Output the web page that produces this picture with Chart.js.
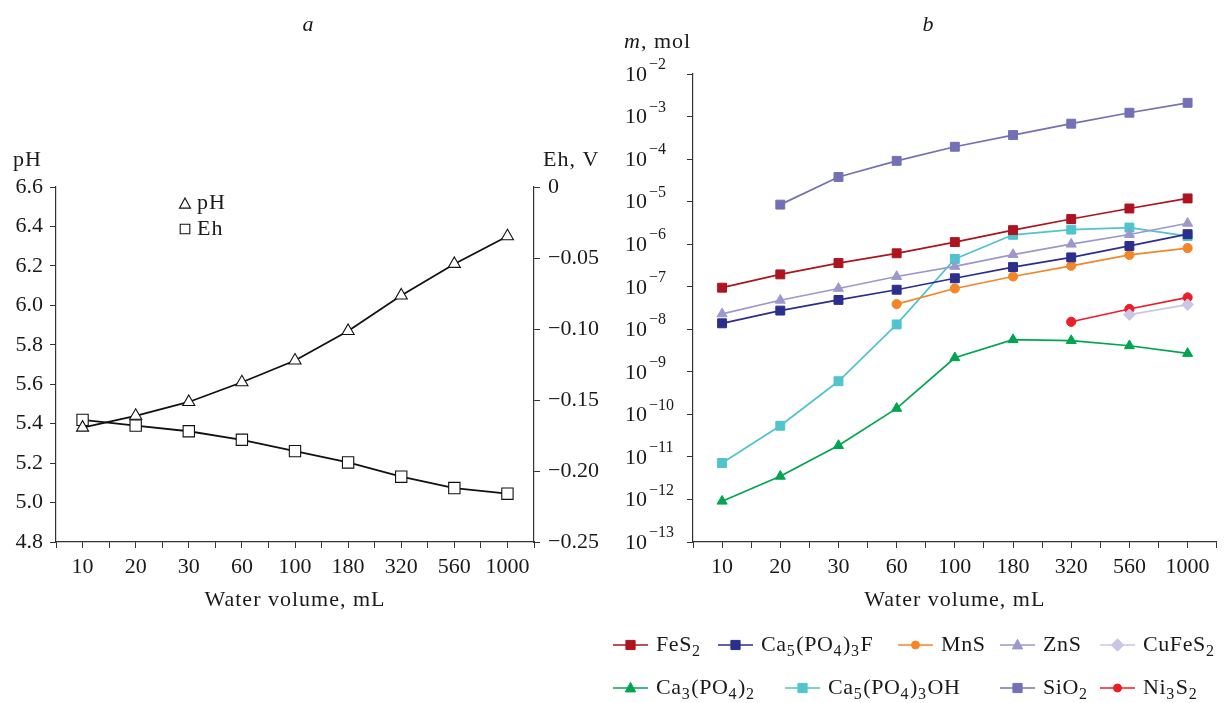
<!DOCTYPE html>
<html>
<head>
<meta charset="utf-8">
<script src="https://cdn.jsdelivr.net/npm/chart.js@4.4.1/dist/chart.umd.min.js"></script>
<style>
  body { margin: 0; background: #fff; }
  #wrap { position: relative; width: 1224px; height: 703px; }
  canvas { position: absolute; top: 0; }
  #left { left: 0; }
  #right { left: 600px; }
</style>
</head>
<body>
<div id="wrap">
  <canvas id="left" width="620" height="703"></canvas>
  <canvas id="right" width="624" height="703"></canvas>
</div>
<script>
// shared categories
const volumes = ['10', '20', '30', '60', '100', '180', '320', '560', '1000'];

// panel a
const phValues = [5.38, 5.44, 5.51, 5.61, 5.72, 5.87, 6.05, 6.21, 6.35];
const ehValues = [-0.164, -0.168, -0.172, -0.178, -0.186, -0.194, -0.204, -0.212, -0.216];
const phTicks = [4.8, 5.0, 5.2, 5.4, 5.6, 5.8, 6.0, 6.2, 6.4, 6.6];
const ehTicks = [-0.25, -0.20, -0.15, -0.10, -0.05, 0];

// panel b (mol)
const fes2 = [9.5e-8, 1.95e-7, 3.6e-7, 6.1e-7, 1.12e-6, 2.14e-6, 3.9e-6, 6.9e-6, 1.19e-5];
const ca5f = [1.38e-8, 2.75e-8, 4.9e-8, 8.5e-8, 1.58e-7, 2.9e-7, 4.9e-7, 9.1e-7, 1.72e-6];
const mns = [null, null, null, 3.9e-8, 9.1e-8, 1.74e-7, 3.1e-7, 5.6e-7, 8.1e-7];
const zns = [2.3e-8, 4.8e-8, 9.1e-8, 1.74e-7, 3.0e-7, 5.7e-7, 1.0e-6, 1.69e-6, 3.1e-6];
const cufes2 = [null, null, null, null, null, null, null, 2.2e-8, 3.8e-8];
const ca3 = [9.1e-13, 3.5e-12, 1.85e-11, 1.38e-10, 2.14e-9, 5.7e-9, 5.4e-9, 4.1e-9, 2.7e-9];
const ca5oh = [7.2e-12, 5.4e-11, 6.0e-10, 1.3e-8, 4.5e-7, 1.66e-6, 2.2e-6, 2.46e-6, 1.55e-6];
const sio2 = [null, 8.5e-6, 3.8e-5, 9.1e-5, 1.95e-4, 3.67e-4, 6.8e-4, 1.23e-3, 2.1e-3];
const ni3s2 = [null, null, null, null, null, null, 1.5e-8, 3.0e-8, 5.6e-8];
const molExponents = [-13, -12, -11, -10, -9, -8, -7, -6, -5, -4, -3, -2];

const FONT = '"Liberation Serif", "DejaVu Serif", serif';
const INK = '#1a1a1a';
const AXIS = '#333';

function points(values) {
    return values.map((v, i) => ({ x: i, y: v }));
}

// tick positions at every category and half-way between
function halfTicks(scale) {
    const t = [];
    for (let v = -0.5; v <= volumes.length - 0.5; v += 0.5) t.push({ value: v });
    scale.ticks = t;
}

function xAxis(height) {
    return {
        type: 'linear',
        min: -0.5,
        max: volumes.length - 0.5,
        afterBuildTicks: halfTicks,
        afterFit: s => { s.height = height; },
        grid: { drawOnChartArea: false, drawTicks: true, tickLength: 6, color: AXIS },
        border: { color: AXIS, width: 1.2 },
        ticks: {
            autoSkip: false,
            maxRotation: 0,
            padding: 6,
            color: INK,
            font: { family: FONT, size: 22 },
            callback: v => Number.isInteger(v) ? volumes[v] : ''
        }
    };
}

function drawMarker(ctx, style, x, y, r, fill, stroke, lw) {
    ctx.save();
    ctx.beginPath();
    if (style === 'rect') {
        ctx.rect(x - r, y - r, 2 * r, 2 * r);
    } else if (style === 'triangle') {
        ctx.moveTo(x, y - r * 1.1);
        ctx.lineTo(x + r, y + r * 0.75);
        ctx.lineTo(x - r, y + r * 0.75);
        ctx.closePath();
    } else if (style === 'rectRot') {
        ctx.moveTo(x, y - r * 1.2);
        ctx.lineTo(x + r * 1.2, y);
        ctx.lineTo(x, y + r * 1.2);
        ctx.lineTo(x - r * 1.2, y);
        ctx.closePath();
    } else {
        ctx.arc(x, y, r, 0, Math.PI * 2);
    }
    ctx.fillStyle = fill;
    ctx.fill();
    ctx.lineWidth = lw;
    ctx.strokeStyle = stroke;
    ctx.stroke();
    ctx.restore();
}

// draw text where "_d" means subscript digit
function drawChem(ctx, text, x, y) {
    const parts = text.split(/(_\d)/).filter(p => p);
    let cx = x;
    parts.forEach(p => {
        if (p[0] === '_') {
            ctx.font = '16px ' + FONT;
            ctx.fillText(p[1], cx, y + 7);
            cx += ctx.measureText(p[1]).width + 1;
        } else {
            ctx.font = '22px ' + FONT;
            ctx.fillText(p, cx, y);
            cx += ctx.measureText(p).width;
        }
    });
}

// ---------- panel a ----------
const panelAText = {
    id: 'panelAText',
    afterDraw(chart) {
        const ctx = chart.ctx;
        const area = chart.chartArea;
        ctx.save();
        ctx.fillStyle = INK;
        ctx.textBaseline = 'middle';
        ctx.font = 'italic 22px ' + FONT;
        ctx.textAlign = 'center';
        ctx.fillText('a', 308, 25);
        ctx.font = '22px ' + FONT;
        ctx.letterSpacing = '1px';
        ctx.fillText('Water volume, mL', (area.left + area.right) / 2, 600);
        ctx.textAlign = 'left';
        ctx.fillText('pH', 13, 160);
        ctx.fillText('Eh, V', 543, 160);
        // legend
        drawMarker(ctx, 'triangle', 185, 204, 5.5, '#fff', '#111', 1.1);
        ctx.fillText('pH', 197, 203);
        drawMarker(ctx, 'rect', 185, 229, 4.8, '#fff', '#111', 1.1);
        ctx.fillText('Eh', 197, 229);
        ctx.restore();
    }
};

new Chart(document.getElementById('left'), {
    type: 'line',
    data: {
        datasets: [{
            label: 'pH',
            data: points(phValues),
            yAxisID: 'y',
            borderColor: '#111',
            borderWidth: 1.8,
            pointStyle: 'triangle',
            pointRadius: 7,
            pointBackgroundColor: '#fff',
            pointBorderColor: '#111',
            pointBorderWidth: 1.1
        }, {
            label: 'Eh',
            data: points(ehValues),
            yAxisID: 'y2',
            borderColor: '#111',
            borderWidth: 1.8,
            pointStyle: 'rect',
            pointRadius: 8,
            pointBackgroundColor: '#fff',
            pointBorderColor: '#111',
            pointBorderWidth: 1.1
        }]
    },
    options: {
        responsive: false,
        animation: false,
        events: [],
        layout: { padding: { top: 187, left: 0, right: 0, bottom: 0 } },
        plugins: { legend: { display: false }, tooltip: { enabled: false } },
        scales: {
            x: xAxis(703 - 542),
            y: {
                position: 'left',
                min: 4.8,
                max: 6.6,
                afterBuildTicks: s => { s.ticks = phTicks.map(v => ({ value: v })); },
                afterFit: s => { s.width = 56; },
                grid: { drawOnChartArea: false, tickLength: 6, color: AXIS },
                border: { color: AXIS, width: 1.2 },
                ticks: {
                    padding: 7,
                    color: INK,
                    font: { family: FONT, size: 22 },
                    callback: v => v.toFixed(1)
                }
            },
            y2: {
                position: 'right',
                min: -0.25,
                max: 0,
                afterBuildTicks: s => { s.ticks = ehTicks.map(v => ({ value: v })); },
                afterFit: s => { s.width = 620 - 534; },
                grid: { drawOnChartArea: false, tickLength: 6, color: AXIS },
                border: { color: AXIS, width: 1.2 },
                ticks: {
                    padding: 8,
                    color: INK,
                    font: { family: FONT, size: 22 },
                    callback: v => v === 0 ? '0' : '\u2212' + Math.abs(v).toFixed(2)
                }
            }
        }
    },
    plugins: [panelAText]
});

// ---------- panel b ----------
const seriesB = [
    { name: 'FeS_2', data: fes2, color: '#ad1420', style: 'rect', r: 6.3 },
    { name: 'Ca_5(PO_4)_3F', data: ca5f, color: '#2b2e8c', style: 'rect', r: 6.3 },
    { name: 'MnS', data: mns, color: '#f4862a', style: 'circle', r: 4.6 },
    { name: 'ZnS', data: zns, color: '#9d98cb', style: 'triangle', r: 5.8 },
    { name: 'CuFeS_2', data: cufes2, color: '#cbc6e4', style: 'rectRot', r: 5.8 },
    { name: 'Ca_3(PO_4)_2', data: ca3, color: '#00a550', style: 'triangle', r: 5.8 },
    { name: 'Ca_5(PO_4)_3OH', data: ca5oh, color: '#4fc4cc', style: 'rect', r: 6.3 },
    { name: 'SiO_2', data: sio2, color: '#7470b5', style: 'rect', r: 6.3 },
    { name: 'Ni_3S_2', data: ni3s2, color: '#ec1c28', style: 'circle', r: 4.6 }
];

// legend placement (canvas x of sample start, row)
const legendSlots = [
    [13, 645], [118, 645], [298, 645], [400, 645], [500, 645],
    [13, 688], [185, 688], [400, 688], [500, 688]
];

const subDigits = '\u2080\u2081\u2082\u2083\u2084\u2085\u2086\u2087\u2088\u2089';
const plainName = n => n.replace(/_(\d)/g, (m, d) => subDigits[+d]);

const panelBText = {
    id: 'panelBText',
    afterDraw(chart) {
        const ctx = chart.ctx;
        const area = chart.chartArea;
        const y = chart.scales.y;
        ctx.save();
        ctx.fillStyle = INK;
        ctx.textBaseline = 'middle';
        ctx.textAlign = 'center';
        ctx.font = 'italic 22px ' + FONT;
        ctx.fillText('b', 328, 25);
        ctx.font = '22px ' + FONT;
        ctx.letterSpacing = '1px';
        ctx.fillText('Water volume, mL', (area.left + area.right) / 2, 600);
        // axis unit
        ctx.textAlign = 'left';
        ctx.font = 'italic 22px ' + FONT;
        ctx.fillText('m', 24, 42);
        const mw = ctx.measureText('m').width;
        ctx.font = '22px ' + FONT;
        ctx.fillText(', mol', 24 + mw, 42);
        ctx.letterSpacing = '0px';
        // log tick labels 10^n
        molExponents.forEach(e => {
            const py = y.getPixelForValue(Math.pow(10, e));
            ctx.font = '22px ' + FONT;
            ctx.fillText('10', 25, py + 1);
            const w = ctx.measureText('10').width;
            ctx.font = '16px ' + FONT;
            ctx.fillText('\u2212' + Math.abs(e), 25 + w + 2, py - 9);
        });
        // legend
        ctx.letterSpacing = '0.6px';
        seriesB.forEach((s, i) => {
            const [lx, ly] = legendSlots[i];
            ctx.strokeStyle = s.color;
            ctx.lineWidth = 1.6;
            ctx.beginPath();
            ctx.moveTo(lx, ly);
            ctx.lineTo(lx + 35, ly);
            ctx.stroke();
            drawMarker(ctx, s.style, lx + 17.5, ly, s.style === 'rect' ? 4.6 : s.r - 0.6, s.color, s.color, 1);
            ctx.fillStyle = INK;
            drawChem(ctx, s.name, lx + 43, ly);
        });
        ctx.restore();
    }
};

new Chart(document.getElementById('right'), {
    type: 'line',
    data: {
        datasets: seriesB.map(s => ({
            label: plainName(s.name),
            data: points(s.data),
            borderColor: s.color,
            backgroundColor: s.color,
            borderWidth: 1.7,
            pointStyle: s.style,
            pointRadius: s.r,
            pointBackgroundColor: s.color,
            pointBorderColor: s.color,
            pointBorderWidth: 1
        }))
    },
    options: {
        responsive: false,
        animation: false,
        events: [],
        layout: { padding: { top: 74, left: 0, right: 2, bottom: 0 } },
        plugins: { legend: { display: false }, tooltip: { enabled: false } },
        scales: {
            x: xAxis(703 - 542),
            y: {
                type: 'logarithmic',
                position: 'left',
                min: 1e-13,
                max: 1e-2,
                afterBuildTicks: s => { s.ticks = molExponents.map(e => ({ value: Math.pow(10, e) })); },
                afterFit: s => { s.width = 93; },
                grid: { drawOnChartArea: false, tickLength: 6, color: AXIS },
                border: { color: AXIS, width: 1.2 },
                ticks: { display: false }
            }
        }
    },
    plugins: [panelBText]
});
</script>
</body>
</html>
